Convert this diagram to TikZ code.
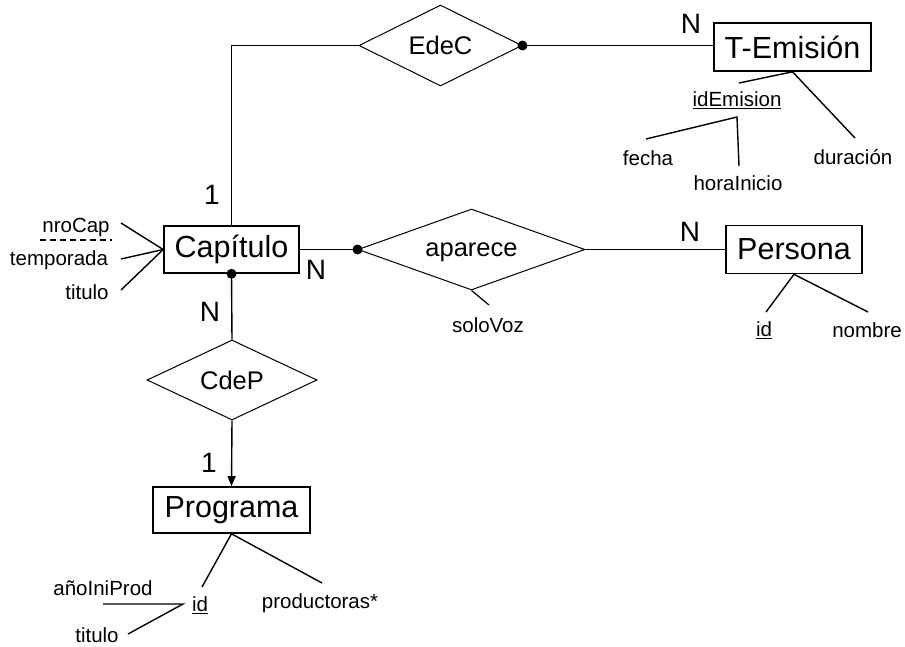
\documentclass[tikz,border=0pt]{standalone}
\usepackage{fontspec}
\setmainfont{Liberation Sans}
\usetikzlibrary{shapes.geometric,arrows.meta}
\begin{document}
\begin{tikzpicture}[x=1pt,y=-1pt,
  entity/.style={draw,line width=1.6pt,rectangle,inner sep=0pt,font=\fontsize{30.5}{36}\selectfont},
  rel/.style={draw,diamond,line width=1pt,inner sep=0pt,text depth=0pt,font=\fontsize{25.5}{30}\selectfont},
  attr/.style={font=\fontsize{20.5}{24}\selectfont,inner sep=0pt},
  card/.style={font=\fontsize{28}{32}\selectfont,inner sep=0pt},
  link/.style={line width=1.4pt},
  dotnode/.style={circle,fill,inner sep=0pt,minimum size=10pt}]
\useasboundingbox (0,0) rectangle (905,646);

% entities
\node[entity,minimum width=135pt,minimum height=47pt] (cap) at (231.5,249.5) {Capítulo};
\node[entity,minimum width=157pt,minimum height=48pt] (tem) at (792.5,47) {T-Emisión};
\node[entity,minimum width=136pt,minimum height=48pt] (per) at (794,249.5) {Persona};
\node[entity,minimum width=157pt,minimum height=46pt] (prog) at (231.5,510) {Programa};

% relationships
\node[rel,aspect=2.0,minimum width=163pt,minimum height=81pt] (edec) at (440.5,45.5) {EdeC};
\node[rel,aspect=2.8,minimum width=227pt,minimum height=81pt] (apa) at (471.5,249.5) {aparece};
\node[rel,aspect=2.1,minimum width=170pt,minimum height=80pt] (cdep) at (232,380) {CdeP};

% connectors
\draw[link] (cap.north) |- (edec.west);
\draw[link] (edec.east) -- (edec.east -| tem.west);
\node[dotnode] (d1) at (edec.east) {};
\draw[link] (cap.east) -- (apa.west);
\node[dotnode] (d2) at (apa.west) {};
\draw[link] (apa.east) -- (per.west);
\draw[link] (cap.south) -- (cdep.north);
\node[dotnode] (d3) at (cap.south) {};
\draw[link,-{Triangle[length=10pt,width=8pt]}] (cdep.south) -- (prog.north);

% cardinalities
\node[card] (k1) at (212,195) {1};
\node[card] (k2) at (316,270) {N};
\node[card] (k3) at (210,312) {N};
\node[card] (k4) at (209,463) {1};
\node[card] (k5) at (691,24) {N};
\node[card] (k6) at (690,232) {N};

% Capitulo attributes
\node[attr] (nro) at (76,227) {nroCap};
\node[attr] (temp) at (59,260) {temporada};
\node[attr] (tit1) at (87,292) {titulo};
\coordinate (u1) at (40,240);
\coordinate (u2) at (112,240);
\draw[line width=1.2pt,dash pattern=on 6pt off 4pt] (u1) -- (u2);
\coordinate (a1) at (121,223);
\coordinate (a2) at (121,259);
\coordinate (a3) at (121,290);
\draw[link] (a1) -- (cap.west);
\draw[link] (a2) -- (cap.west);
\draw[link] (a3) -- (cap.west);

% T-Emision attributes
\node[attr] (ide) at (737,100) {\underline{idEmision}};
\node[attr] (fec) at (648,158) {fecha};
\node[attr] (hor) at (738,183) {horaInicio};
\node[attr] (dur) at (853,157) {duración};
\coordinate (e1) at (739,83);
\coordinate (e2) at (855,138);
\coordinate (ej) at (737,117);
\coordinate (e3) at (646,139);
\coordinate (e4) at (739,166);
\draw[link] (e1) -- (tem.south) -- (e2);
\draw[link] (e3) -- (ej) -- (e4);

% Persona attributes
\node[attr] (pid) at (764,330) {\underline{id}};
\node[attr] (nom) at (867,330) {nombre};
\coordinate (p1) at (766,312);
\coordinate (p2) at (868,312);
\draw[link] (p1) -- (per.south) -- (p2);

% aparece attribute
\node[attr] (solo) at (488,325) {soloVoz};
\coordinate (s1) at (489,305);
\draw[line width=1.2pt] (apa.south) -- (s1);

% Programa attributes
\node[attr] (gid) at (200,605) {\underline{id}};
\node[attr] (prod) at (320,603) {productoras*};
\node[attr] (ano) at (103,588) {añoIniProd};
\node[attr] (tit2) at (97,635) {titulo};
\coordinate (g1) at (202,587);
\coordinate (g2) at (322,583);
\draw[link] (g1) -- (prog.south) -- (g2);
\coordinate (h1) at (103,604);
\coordinate (hj) at (183,604);
\coordinate (h2) at (128,634);
\draw[link] (h1) -- (hj) -- (h2);
\end{tikzpicture}
\end{document}
